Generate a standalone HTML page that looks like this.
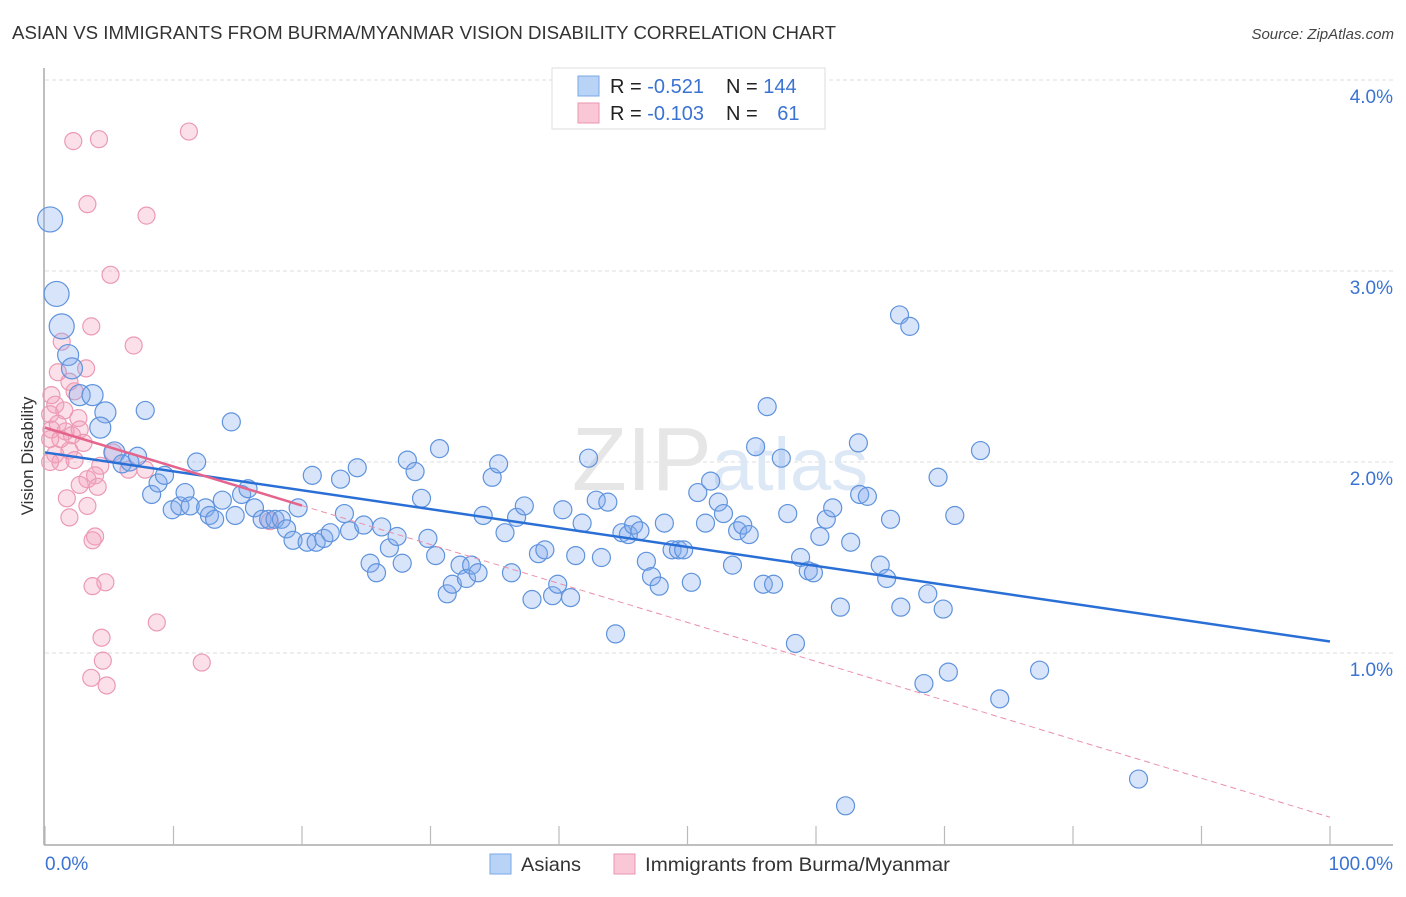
<!DOCTYPE html>
<html><head><meta charset="utf-8">
<style>
body{margin:0;background:#fff;font-family:"Liberation Sans",sans-serif;}
svg text{font-family:"Liberation Sans",sans-serif;}
</style></head>
<body>
<svg id="chart" width="1406" height="892" viewBox="0 0 1406 892" xmlns="http://www.w3.org/2000/svg">
<text x="12" y="39" font-size="18" fill="#333" textLength="824" lengthAdjust="spacingAndGlyphs">ASIAN VS IMMIGRANTS FROM BURMA/MYANMAR VISION DISABILITY CORRELATION CHART</text>
<text x="1394" y="39" font-size="15" fill="#444" text-anchor="end" font-style="italic">Source: ZipAtlas.com</text>
<g id="grid"></g>
<text x="720" y="490" font-size="90" text-anchor="middle" font-family="Liberation Serif"><tspan fill="#e6e6e6">ZIP</tspan><tspan fill="#dde8f6" font-family="Liberation Sans" font-size="74">atlas</tspan></text>
<g id="axes"></g>
<g id="pts"></g>
<g id="lines"></g>
<text transform="translate(33,456) rotate(-90)" font-size="17" fill="#333" text-anchor="middle">Vision Disability</text>
<g>
<rect x="552" y="68" width="273" height="61" fill="#fff" stroke="#ddd"/>
<rect x="578" y="76" width="21" height="20" fill="#b8d3f5" stroke="#7aa8e6"/>
<rect x="578" y="103" width="21" height="20" fill="#f9c7d6" stroke="#eb95b0"/>
<text x="610" y="93" font-size="20" fill="#222">R = <tspan fill="#3b73d3">-0.521</tspan><tspan dx="22">N = </tspan><tspan fill="#3b73d3">144</tspan></text>
<text x="610" y="120" font-size="20" fill="#222">R = <tspan fill="#3b73d3">-0.103</tspan><tspan dx="22">N = </tspan><tspan fill="#3b73d3" dx="14">61</tspan></text>
</g>
<g>
<rect x="490" y="854" width="21" height="20" fill="#b8d3f5" stroke="#7aa8e6"/>
<text x="521" y="871" font-size="19.5" fill="#333" textLength="60" lengthAdjust="spacingAndGlyphs">Asians</text>
<rect x="614" y="854" width="21" height="20" fill="#f9c7d6" stroke="#eb95b0"/>
<text x="645" y="871" font-size="19.5" fill="#333" textLength="305" lengthAdjust="spacingAndGlyphs">Immigrants from Burma/Myanmar</text>
</g>
</svg>
<script>
const yTicks=[1,2,3,4];
const yTickLabels=["1.0%","2.0%","3.0%","4.0%"];
const xTicks=[0,10,20,30,40,50,60,70,80,90,100];
const xLabels=["0.0%","100.0%"];
const asianX=[0.4,0.9,1.3,1.8,2.1,2.7,3.7,4.7,4.3,5.4,6.0,6.6,7.2,7.8,8.3,8.8,9.3,9.9,10.5,10.9,11.3,11.8,12.5,12.8,13.2,13.8,14.5,14.8,15.3,15.8,16.3,16.9,17.4,17.9,18.4,18.8,19.3,19.7,20.4,21.1,21.7,22.2,20.8,23.0,23.3,23.7,24.3,24.8,25.3,25.8,26.2,26.8,27.4,27.8,28.2,28.8,29.3,29.8,30.4,30.7,31.3,31.7,32.3,32.8,33.2,33.7,34.1,34.8,35.3,35.8,36.3,36.7,37.3,37.9,38.4,38.9,39.5,39.9,40.3,40.9,41.3,41.8,42.3,42.9,43.3,43.8,44.4,44.9,45.4,45.8,46.3,46.8,47.2,47.8,48.2,48.8,49.3,49.7,50.3,50.8,51.4,51.8,52.4,52.8,53.5,53.9,54.3,54.8,55.3,55.9,56.2,56.7,57.3,57.8,58.4,58.8,59.4,59.8,60.3,60.8,61.3,61.9,62.3,62.7,63.3,63.4,64.0,65.0,65.5,65.8,66.5,66.6,67.3,68.4,68.7,69.5,69.9,70.3,70.8,72.8,74.3,77.4,85.1];
const asianY=[3.27,2.88,2.71,2.56,2.49,2.35,2.35,2.26,2.18,2.05,1.99,2.0,2.03,2.27,1.83,1.89,1.93,1.75,1.77,1.84,1.77,2.0,1.76,1.72,1.70,1.80,2.21,1.72,1.83,1.86,1.76,1.70,1.70,1.70,1.70,1.65,1.59,1.76,1.58,1.58,1.60,1.63,1.93,1.91,1.73,1.64,1.97,1.67,1.47,1.42,1.66,1.55,1.61,1.47,2.01,1.95,1.81,1.60,1.51,2.07,1.31,1.36,1.46,1.39,1.46,1.42,1.72,1.92,1.99,1.63,1.42,1.71,1.77,1.28,1.52,1.54,1.30,1.36,1.75,1.29,1.51,1.68,2.02,1.80,1.50,1.79,1.10,1.63,1.62,1.67,1.64,1.48,1.40,1.35,1.68,1.54,1.54,1.54,1.37,1.84,1.68,1.90,1.79,1.73,1.46,1.64,1.67,1.62,2.08,1.36,2.29,1.36,2.02,1.73,1.05,1.50,1.43,1.42,1.61,1.70,1.76,1.24,0.20,1.58,2.10,1.83,1.82,1.46,1.39,1.70,2.77,1.24,2.71,0.84,1.31,1.92,1.23,0.90,1.72,2.06,0.76,0.91,0.34];
const burmaX=[2.2,4.2,11.2,3.3,7.9,5.1,3.6,6.9,1.3,3.2,1.9,1.0,2.3,0.5,0.8,1.5,2.6,0.4,0.5,1.0,1.6,2.1,2.7,3.0,0.4,0.8,1.2,1.9,0.4,4.3,5.3,6.5,7.8,3.9,3.3,2.7,4.1,1.7,3.3,1.9,3.9,3.7,4.7,3.7,8.7,4.4,4.5,12.2,3.6,4.8,17.5,1.2,2.3];
const burmaY=[3.68,3.69,3.73,3.35,3.29,2.98,2.71,2.61,2.63,2.49,2.42,2.47,2.37,2.35,2.30,2.27,2.23,2.25,2.17,2.20,2.16,2.14,2.17,2.10,2.12,2.04,2.0,2.06,2.0,1.98,2.05,1.96,1.96,1.93,1.91,1.88,1.87,1.81,1.77,1.71,1.61,1.59,1.37,1.35,1.16,1.08,0.96,0.95,0.87,0.83,1.69,2.12,2.01];
const asianTrend=[2.05,1.06];
const burmaTrend=[2.18,0.14];
const burmaSolidEnd=20;

const NS="http://www.w3.org/2000/svg";
const X0=45,X1=1330,Y0=844,PY=191;
function sx(v){return X0+(X1-X0)*v/100;}
function sy(v){return Y0-PY*v;}
function mk(tag,attrs,parent){const e=document.createElementNS(NS,tag);for(const k in attrs)e.setAttribute(k,attrs[k]);parent.appendChild(e);return e;}
const grid=document.getElementById('grid'),axes=document.getElementById('axes'),pts=document.getElementById('pts'),lines=document.getElementById('lines');
yTicks.forEach((t,i)=>{
  const l=mk('line',{x1:45,x2:1393,y1:sy(t),y2:sy(t),stroke:'#ddd','stroke-dasharray':'4,3'},grid);
  
  
  const tx=mk('text',{x:1393,y:sy(t)+23,'font-size':19,fill:'#3b73d3','text-anchor':'end'},axes);
  tx.textContent=yTickLabels[i];
  
  
});
mk('line',{x1:44,x2:44,y1:68,y2:845,stroke:'#aaa','stroke-width':1.5},axes);
mk('line',{x1:44,x2:1393,y1:845,y2:845,stroke:'#aaa','stroke-width':1.5},axes);
xTicks.forEach(t=>{
  const l=mk('line',{x1:sx(t),x2:sx(t),y1:826,y2:845,stroke:'#bbb','stroke-width':1.2},axes);
  
  
});
const xl0=mk('text',{x:45,y:870,'font-size':19,fill:'#3b73d3'},axes);xl0.textContent=xLabels[0];


const xl1=mk('text',{x:1393,y:870,'font-size':19,fill:'#3b73d3','text-anchor':'end'},axes);xl1.textContent=xLabels[1];



burmaX.forEach((v,i)=>{
  const c=mk('circle',{cx:sx(v),cy:sy(burmaY[i]),r:8.5,fill:'rgba(243,160,188,0.32)',stroke:'#ec9ab4','stroke-width':1.2},pts);
  
  
});
asianX.forEach((v,i)=>{
  const r=i<3?12.5:(i<10?10.5:9);
  const c=mk('circle',{cx:sx(v),cy:sy(asianY[i]),r:r,fill:'rgba(130,170,235,0.32)',stroke:'#5f93dd','stroke-width':1.2},pts);
  
  
});
function ly(tr,x){return tr[0]+(tr[1]-tr[0])*x/100;}
const bl=mk('line',{x1:sx(0),y1:sy(asianTrend[0]),x2:sx(100),y2:sy(asianTrend[1]),stroke:'#2a6fd6','stroke-width':2.5},lines);


const pd=mk('line',{x1:sx(burmaSolidEnd),y1:sy(ly(burmaTrend,burmaSolidEnd)),x2:sx(100),y2:sy(burmaTrend[1]),stroke:'#ec8fac','stroke-width':1,'stroke-dasharray':'6,4'},lines);


const ps=mk('line',{x1:sx(0),y1:sy(burmaTrend[0]),x2:sx(burmaSolidEnd),y2:sy(ly(burmaTrend,burmaSolidEnd)),stroke:'#e5648c','stroke-width':2.5},lines);


</script>
</body></html>
